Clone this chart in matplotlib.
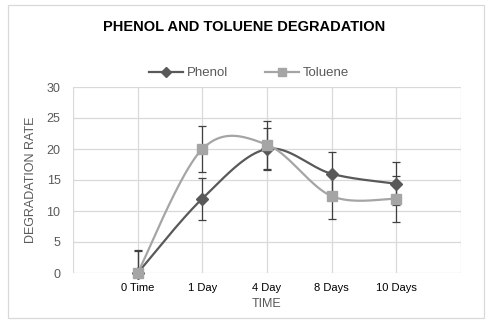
import numpy as np
import matplotlib
matplotlib.use("Agg")
import matplotlib.pyplot as plt
from matplotlib.patches import Rectangle

# Data
categories = ["0 Time", "1 Day", "4 Day", "8 Days", "10 Days"]
phenol = [0, 12, 20, 16, 14.4]
phenol_err = [3.5, 3.4, 3.35, 3.5, 3.5]
toluene = [0, 20, 20.7, 12.4, 12]
toluene_err = [3.7, 3.75, 3.85, 3.7, 3.7]
y_ticks = [0, 5, 10, 15, 20, 25, 30]

PHENOL_C = "#595959"
TOLUENE_C = "#A5A5A5"
ERR_C = "#404040"
GRID_C = "#D9D9D9"
TEXT_C = "#595959"

plt.rcParams["font.family"] = ["Liberation Sans", "DejaVu Sans"]


def smooth(xs, ys, n=40):
    """Bezier smoothing through every point (Catmull-Rom style control points)."""
    pts = np.column_stack([xs, ys]).astype(float)
    out = [pts[0]]
    m = len(pts)
    for i in range(m - 1):
        p0 = pts[i - 1] if i > 0 else pts[i]
        p1 = pts[i]
        p2 = pts[i + 1]
        p3 = pts[i + 2] if i + 2 < m else pts[i + 1]
        c1 = p1 + (p2 - p0) / 6.0
        c2 = p2 - (p3 - p1) / 6.0
        t = np.linspace(0, 1, n)[1:, None]
        seg = ((1 - t) ** 3) * p1 + 3 * ((1 - t) ** 2) * t * c1 \
            + 3 * (1 - t) * t ** 2 * c2 + t ** 3 * p2
        out.extend(seg)
    out = np.array(out)
    return out[:, 0], out[:, 1]


fig = plt.figure(figsize=(4.91, 3.25), dpi=100)
fig.patch.set_facecolor("white")

# Chart frame
fig.add_artist(Rectangle((8 / 491, 1 - 318 / 325), 476 / 491, 313 / 325,
                         transform=fig.transFigure, fill=False,
                         edgecolor=GRID_C, linewidth=0.9))

ax = fig.add_axes([73 / 491, 1 - 273 / 325, 388 / 491, 186 / 325])
x = np.arange(1, len(categories) + 1)

ax.set_xlim(0, len(categories) + 1)
ax.set_ylim(0, 30)
ax.set_xticks(np.arange(0, len(categories) + 2))
ax.set_xticklabels([""] + categories + [""])
ax.set_yticks(y_ticks)
ax.grid(True, color=GRID_C, linewidth=0.9)
ax.set_axisbelow(True)
for s in ax.spines.values():
    s.set_visible(False)
ax.tick_params(axis="y", length=0, labelsize=9, colors=TEXT_C, pad=9)
ax.tick_params(axis="x", length=0, labelsize=8, colors="#000000", pad=7)

# Error bars
ax.errorbar(x, phenol, yerr=phenol_err, fmt="none", ecolor=ERR_C,
            elinewidth=0.9, capsize=3.2, capthick=0.9, zorder=3, clip_on=True)
ax.errorbar(x, toluene, yerr=toluene_err, fmt="none", ecolor=ERR_C,
            elinewidth=0.9, capsize=3.2, capthick=0.9, zorder=3, clip_on=True)

# Smoothed series
px, py = smooth(x, phenol)
tx, ty = smooth(x, toluene)
ax.plot(px, py, color=PHENOL_C, linewidth=1.6, zorder=4)
ax.plot(x, phenol, linestyle="none", marker="D", markersize=6,
        color=PHENOL_C, zorder=5, clip_on=False)
ax.plot(tx, ty, color=TOLUENE_C, linewidth=1.6, zorder=6)
ax.plot(x, toluene, linestyle="none", marker="s", markersize=7.5,
        color=TOLUENE_C, zorder=7, clip_on=False)

# Legend handles
h1, = ax.plot([], [], color=PHENOL_C, linewidth=1.6, marker="D", markersize=5)
h2, = ax.plot([], [], color=TOLUENE_C, linewidth=1.6, marker="s", markersize=6)
fig.legend([h1, h2], ["Phenol", "Toluene"], loc="center",
           bbox_to_anchor=(249 / 491, 1 - 73 / 325), ncol=2, frameon=False,
           fontsize=9.5, labelcolor=TEXT_C, handlelength=2.6,
           columnspacing=2.8, handletextpad=0.3)

ax.set_xlabel("TIME", color=TEXT_C, fontsize=9, labelpad=4)
ax.set_ylabel("DEGRADATION RATE", color=TEXT_C, fontsize=9, labelpad=7)

fig.text(244 / 491, 1 - 27 / 325, "PHENOL AND TOLUENE DEGRADATION",
         ha="center", va="center", fontsize=10.5, fontweight="bold",
         color="#000000")

fig.savefig("out.png", dpi=100, facecolor="white")
